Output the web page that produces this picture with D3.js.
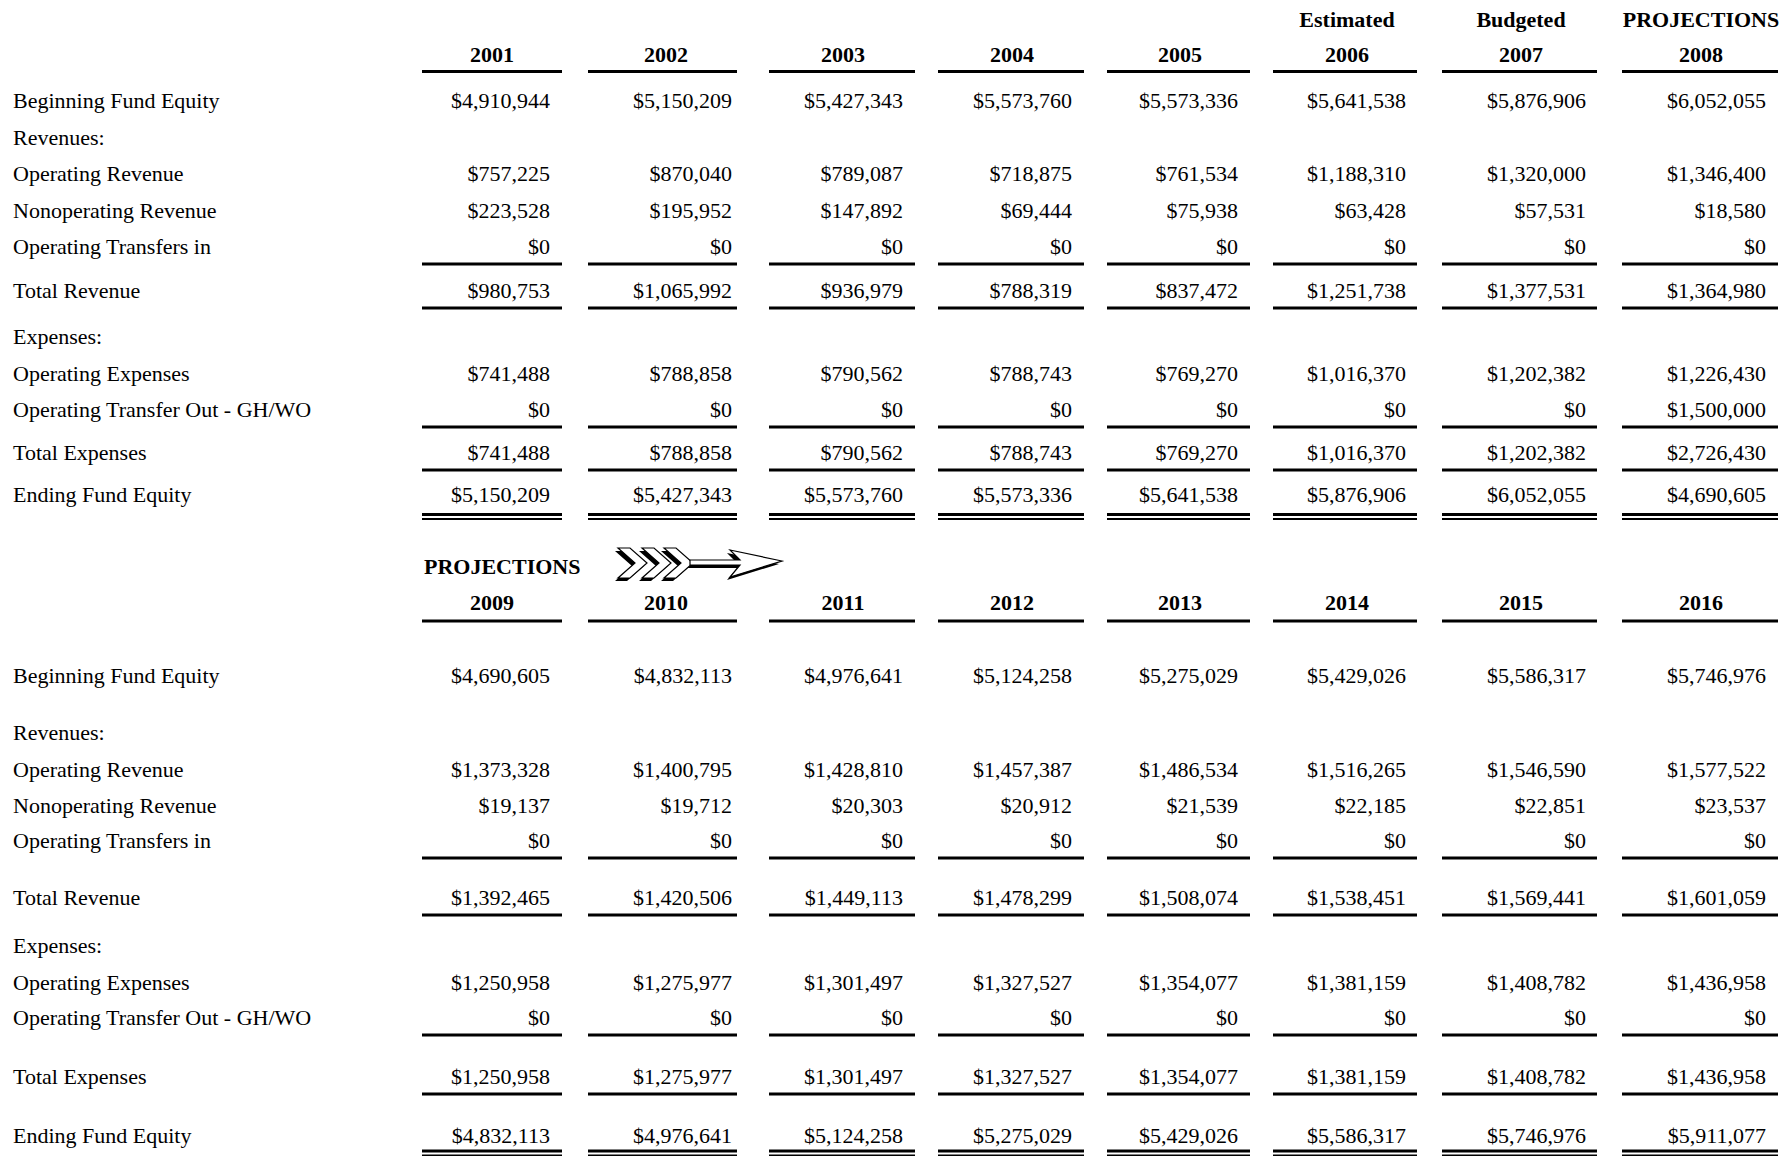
<!DOCTYPE html>
<html>
<head>
<meta charset="utf-8">
<script src="https://cdn.jsdelivr.net/npm/d3@7"></script>
<style>
  html, body { margin: 0; padding: 0; background: #fff; }
  svg { display: block; }
  text { font-family: "Liberation Serif", "Times New Roman", serif; font-size: 22px; fill: #000; }
  .head { font-weight: bold; }
</style>
</head>
<body>
<svg width="1789" height="1156"></svg>
<script>
// ---- données ----
const years1 = ["2001", "2002", "2003", "2004", "2005", "2006", "2007", "2008"];
const status1 = ["", "", "", "", "", "Estimated", "Budgeted", "PROJECTIONS"];
const years2 = ["2009", "2010", "2011", "2012", "2013", "2014", "2015", "2016"];

const rowLabels = [
  "Beginning Fund Equity",
  "Revenues:",
  "Operating Revenue",
  "Nonoperating Revenue",
  "Operating Transfers in",
  "Total Revenue",
  "Expenses:",
  "Operating Expenses",
  "Operating Transfer Out - GH/WO",
  "Total Expenses",
  "Ending Fund Equity"
];

// 2001 - 2008
const beginning1 = [4910944, 5150209, 5427343, 5573760, 5573336, 5641538, 5876906, 6052055];
const opRevenue1 = [757225, 870040, 789087, 718875, 761534, 1188310, 1320000, 1346400];
const nonopRevenue1 = [223528, 195952, 147892, 69444, 75938, 63428, 57531, 18580];
const transfersIn1 = [0, 0, 0, 0, 0, 0, 0, 0];
const totalRevenue1 = [980753, 1065992, 936979, 788319, 837472, 1251738, 1377531, 1364980];
const opExpenses1 = [741488, 788858, 790562, 788743, 769270, 1016370, 1202382, 1226430];
const transferOut1 = [0, 0, 0, 0, 0, 0, 0, 1500000];
const totalExpenses1 = [741488, 788858, 790562, 788743, 769270, 1016370, 1202382, 2726430];
const ending1 = [5150209, 5427343, 5573760, 5573336, 5641538, 5876906, 6052055, 4690605];

// 2009 - 2016
const beginning2 = [4690605, 4832113, 4976641, 5124258, 5275029, 5429026, 5586317, 5746976];
const opRevenue2 = [1373328, 1400795, 1428810, 1457387, 1486534, 1516265, 1546590, 1577522];
const nonopRevenue2 = [19137, 19712, 20303, 20912, 21539, 22185, 22851, 23537];
const transfersIn2 = [0, 0, 0, 0, 0, 0, 0, 0];
const totalRevenue2 = [1392465, 1420506, 1449113, 1478299, 1508074, 1538451, 1569441, 1601059];
const opExpenses2 = [1250958, 1275977, 1301497, 1327527, 1354077, 1381159, 1408782, 1436958];
const transferOut2 = [0, 0, 0, 0, 0, 0, 0, 0];
const totalExpenses2 = [1250958, 1275977, 1301497, 1327527, 1354077, 1381159, 1408782, 1436958];
const ending2 = [4832113, 4976641, 5124258, 5275029, 5429026, 5586317, 5746976, 5911077];

// type de filet sous chaque ligne
const rowRules = [null, null, null, null, "single", "single", null, null, "single", "single", "double"];

// ---- mise en page ----
const svg = d3.select("svg");
const fmt = (v) => "$" + d3.format(",")(v);

const colIdx = d3.range(8);
const colLeft = d3.scaleOrdinal().domain(colIdx).range([422, 588, 769, 938, 1107, 1273, 1442, 1622]);
const colRight = d3.scaleOrdinal().domain(colIdx).range([562, 737, 915, 1084, 1250, 1417, 1597, 1778]);
const colMid = d3.scaleOrdinal().domain(colIdx).range([492, 666, 843, 1012, 1180, 1347, 1521, 1701]);
const colValue = d3.scaleOrdinal().domain(colIdx).range([550, 732, 903, 1072, 1238, 1406, 1586, 1766]);

const rowIdx = d3.range(rowLabels.length);
const rowY1 = d3.scaleOrdinal().domain(rowIdx).range([108, 145, 181, 218, 254, 298, 344, 381, 417, 460, 502]);
const rowY2 = d3.scaleOrdinal().domain(rowIdx).range([683, 740, 777, 813, 848, 905, 953, 990, 1025, 1084, 1143]);

function hline(g, y, w) {
  g.selectAll(null)
    .data(colIdx)
    .enter()
    .append("line")
    .attr("x1", (i) => colLeft(i))
    .attr("x2", (i) => colRight(i))
    .attr("y1", y)
    .attr("y2", y)
    .attr("stroke", "#000")
    .attr("stroke-width", w);
}

function drawTable(opt) {
  const g = svg.append("g");

  // en-têtes
  if (opt.status) {
    g.selectAll(null)
      .data(opt.status)
      .enter()
      .append("text")
      .attr("class", "head")
      .attr("text-anchor", "middle")
      .attr("x", (d, i) => colMid(i))
      .attr("y", opt.statusY)
      .text((d) => d);
  }
  g.selectAll(null)
    .data(opt.years)
    .enter()
    .append("text")
    .attr("class", "head")
    .attr("text-anchor", "middle")
    .attr("x", (d, i) => colMid(i))
    .attr("y", opt.yearY)
    .text((d) => d);
  hline(g, opt.yearRule, 3);

  // libellés
  g.selectAll(null)
    .data(rowLabels)
    .enter()
    .append("text")
    .attr("x", 13)
    .attr("y", (d, i) => opt.rowY(i))
    .text((d) => d);

  // valeurs
  opt.rows.forEach((vals, r) => {
    if (!vals) return;
    g.selectAll(null)
      .data(vals)
      .enter()
      .append("text")
      .attr("text-anchor", "end")
      .attr("x", (d, i) => colValue(i))
      .attr("y", opt.rowY(r))
      .text((d) => fmt(d));

    const y = opt.rowY(r);
    if (rowRules[r] === "single") hline(g, y + 10, 3);
    if (rowRules[r] === "double") {
      hline(g, opt.doubleRule, 3);
      hline(g, opt.doubleRule + 4.5, 2);
    }
  });
  return g;
}

drawTable({
  years: years1,
  status: status1,
  statusY: 27,
  yearY: 62,
  yearRule: 71.5,
  doubleRule: 514.5,
  rowY: rowY1,
  rows: [beginning1, null, opRevenue1, nonopRevenue1, transfersIn1, totalRevenue1, null,
         opExpenses1, transferOut1, totalExpenses1, ending1]
});

const t2 = drawTable({
  years: years2,
  yearY: 610,
  yearRule: 621,
  doubleRule: 1151,
  rowY: rowY2,
  rows: [beginning2, null, opRevenue2, nonopRevenue2, transfersIn2, totalRevenue2, null,
         opExpenses2, transferOut2, totalExpenses2, ending2]
});

t2.append("text")
  .attr("class", "head")
  .attr("x", colLeft(0) + 2)
  .attr("y", 574)
  .text("PROJECTIONS");

// ---- flèche ----
const arrow = svg.append("g").attr("transform", "translate(618,548)");
const feather = (x0) => [[x0, 0], [x0 + 12, 0], [x0 + 29, 15], [x0 + 12, 30], [x0, 30], [x0 + 17, 15]];
const head = [[112, 2], [164, 13], [112, 29], [122, 17], [72, 17], [72, 12], [122, 12]];
const shapes = [feather(0), feather(24), feather(46), head];
const pathOf = (pts) => "M" + pts.map((p) => p.join(",")).join("L") + "Z";

// ombre
arrow.selectAll(null)
  .data(shapes)
  .enter()
  .append("path")
  .attr("d", pathOf)
  .attr("transform", "translate(-3,3)")
  .attr("fill", "#000");
arrow.selectAll(null)
  .data(shapes)
  .enter()
  .append("path")
  .attr("d", pathOf)
  .attr("fill", "#fff")
  .attr("stroke", "#000")
  .attr("stroke-width", 1.2)
  .attr("stroke-linejoin", "miter");
</script>
</body>
</html>
